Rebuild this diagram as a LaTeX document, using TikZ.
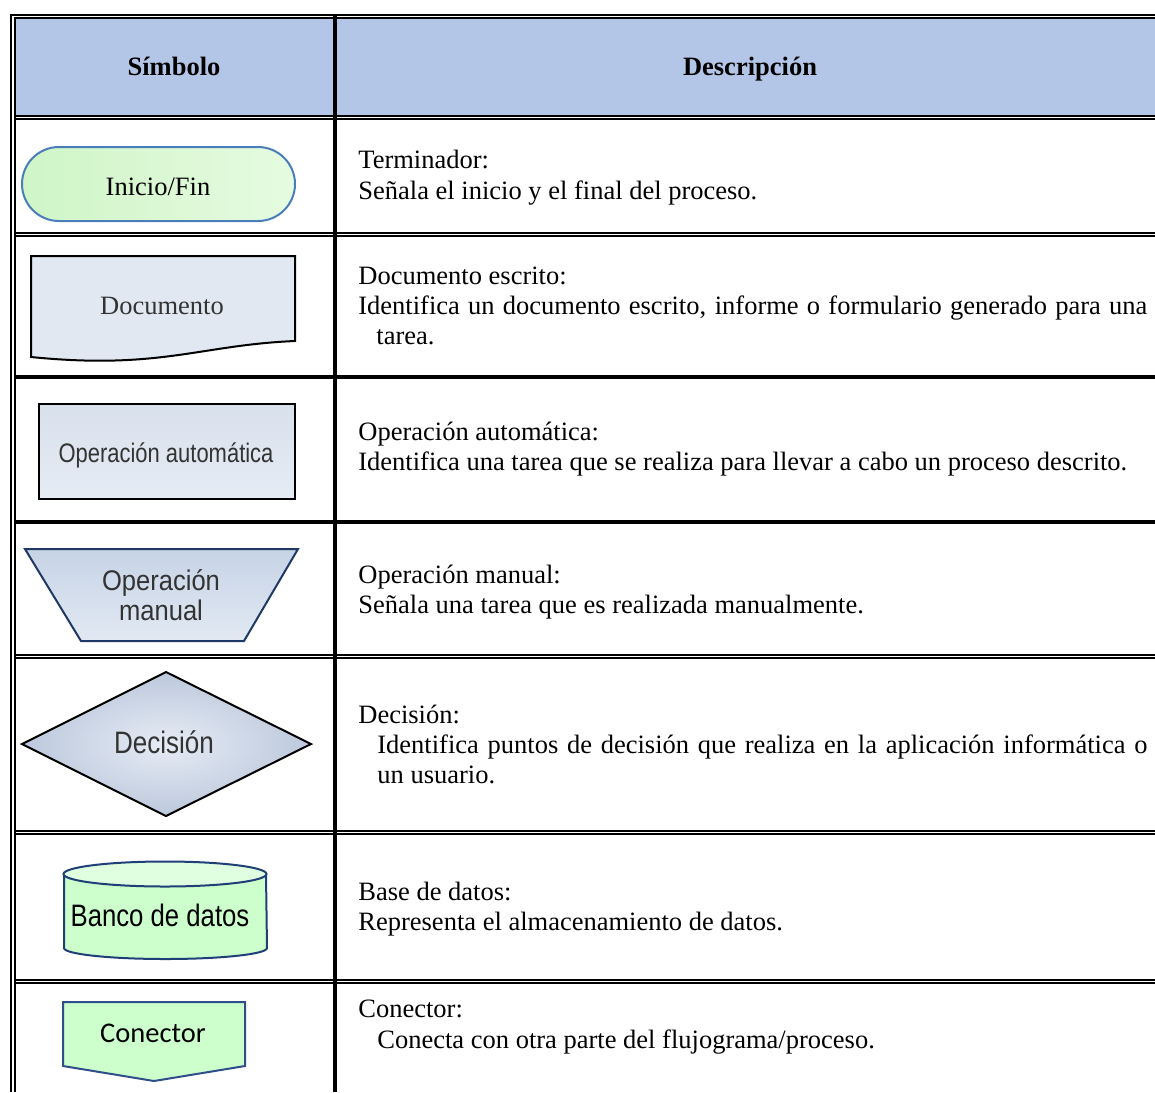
\documentclass[tikz,border=0pt]{standalone}
\usepackage{fontspec}
\usepackage{graphicx}
\setmainfont{Liberation Serif}
\newfontfamily\arialf{Liberation Sans}
\newfontfamily\calibf{Carlito}

\definecolor{hdrblue}{HTML}{B4C6E7}
\definecolor{termline}{HTML}{4A7EBB}
\definecolor{termA}{HTML}{CFF5C7}
\definecolor{termB}{HTML}{E6FBE0}
\definecolor{docfill}{HTML}{E1E8F2}
\definecolor{autoA}{HTML}{D8E0EC}
\definecolor{autoB}{HTML}{E6ECF4}
\definecolor{navyline}{HTML}{1F3864}
\definecolor{manA}{HTML}{C6D3E6}
\definecolor{manB}{HTML}{E2E9F3}
\definecolor{decIn}{HTML}{E6ECF5}
\definecolor{decOut}{HTML}{BCC8DC}
\definecolor{dbline}{HTML}{1F3F77}
\definecolor{dbbody}{HTML}{CCFFCC}
\definecolor{dbtop}{HTML}{E0FFE0}
\definecolor{connline}{HTML}{2E4F8A}
\definecolor{shapetext}{HTML}{333333}

\begin{document}
\begin{tikzpicture}[x=0.5pt,y=-0.5pt,
  thinrule/.style={line width=1pt},
  thickrule/.style={line width=2pt},
  colrule/.style={line width=1.75pt},
  desc/.style={font=\fontsize{13.25pt}{15.5pt}\selectfont, anchor=base west, inner sep=0pt},
  head/.style={font=\fontsize{13.25pt}{15.5pt}\selectfont\bfseries, anchor=base, inner sep=0pt},
  serifshape/.style={font=\fontsize{13.25pt}{15.5pt}\selectfont, anchor=base, inner sep=0pt},
  sansshape/.style={anchor=base, inner sep=0pt, text=shapetext},
  outline/.style={line width=1pt, line join=miter}
]
\useasboundingbox (0,0) rectangle (1155,1092);

% header band
\fill[hdrblue] (14,18) rectangle (1155,115);

% outer frame (double lines on top and left)
\draw[thinrule] (10,15) -- (1155,15);
\draw[thinrule] (14,18) -- (1155,18);
\draw[thinrule] (11,14) -- (11,1092);
\draw[thinrule] (14.5,18) -- (14.5,1092);

% row separators
\foreach \ya/\yb in {115.5/118.5, 232.5/235.5, 655/658, 830.5/833.5, 980/983}{
  \draw[thinrule] (14,\ya) -- (1155,\ya);
  \draw[thinrule] (14,\yb) -- (1155,\yb);
}
\draw[thickrule] (14,376.5) -- (1155,376.5);
\draw[thickrule] (14,522) -- (1155,522);

% column separator
\draw[colrule] (335,15) -- (335,1092);

% header texts
\node[head] (hsym) at (174,75) {Símbolo};
\node[head] (hdesc) at (750,75) {Descripción};

% ---- symbols ----
% terminator
\draw[outline, draw=termline, left color=termA, right color=termB, rounded corners=18.5pt]
  (22,147) rectangle (295,221);
\node[serifshape] (sterm) at (158,195) {Inicio/Fin};

% document
\draw[outline, fill=docfill] (31,256) -- (295,256) -- (295,341)
  .. controls (200,345) and (160,370) .. (31,357) -- cycle;
\node[serifshape, text=shapetext] (sdoc) at (162,314) {Documento};

% automatic operation
\draw[outline, top color=autoA, bottom color=autoB] (39,404) rectangle (295,499);
\node[sansshape] (sauto) at (166,462)
  {\scalebox{0.82}[1]{\arialf\fontsize{13.4pt}{15pt}\selectfont Operación automática}};

% manual operation
\draw[outline, draw=navyline, top color=manA, bottom color=manB]
  (25,549) -- (298,549) -- (244,641) -- (81,641) -- cycle;
\node[sansshape] (sman1) at (161,590)
  {\scalebox{0.9}[1]{\arialf\fontsize{14.2pt}{16pt}\selectfont Operación}};
\node[sansshape] (sman2) at (161,620)
  {\scalebox{0.9}[1]{\arialf\fontsize{14.2pt}{16pt}\selectfont manual}};

% decision
\draw[outline, inner color=decIn, outer color=decOut]
  (22,744) -- (166,672) -- (311,744) -- (166,816) -- cycle;
\node[sansshape] (sdec) at (164,753)
  {\scalebox{0.84}[1]{\arialf\fontsize{15.5pt}{17pt}\selectfont Decisión}};

% database
\draw[outline, draw=dbline, fill=dbbody] (64,874) -- (64,948)
  arc[start angle=180, end angle=360, x radius=50.75pt, y radius=5.5pt]
  -- (266,874) -- cycle;
\draw[outline, draw=dbline, fill=dbtop] (165,874) ellipse [x radius=50.75pt, y radius=6.25pt];
\node[sansshape, text=black] (sdb) at (160,926)
  {\scalebox{0.83}[1]{\arialf\fontsize{15.5pt}{17pt}\selectfont Banco de datos}};

% connector
\draw[outline, draw=connline, fill=dbbody]
  (63,1002) -- (245,1002) -- (245,1066) -- (154,1081) -- (63,1066) -- cycle;
\node[sansshape, text=black] (sconn) at (153,1042)
  {\calibf\fontsize{14.25pt}{16pt}\selectfont Conector};

% ---- descriptions ----
\node[desc] (d1a) at (358,168) {Terminador:};
\node[desc] (d1b) at (358,199) {Señala el inicio y el final del proceso.};

\node[desc] (d2a) at (358,284) {Documento escrito:};
\node[desc] (d2b) at (358,314)
  {\makebox[394.5pt][s]{Identifica un documento escrito, informe o formulario generado para una}};
\node[desc] (d2c) at (376,344) {tarea.};

\node[desc] (d3a) at (358,440) {Operación automática:};
\node[desc] (d3b) at (358,470) {Identifica una tarea que se realiza para llevar a cabo un proceso descrito.};

\node[desc] (d4a) at (358,583) {Operación manual:};
\node[desc] (d4b) at (358,613) {Señala una tarea que es realizada manualmente.};

\node[desc] (d5a) at (358,723) {Decisión:};
\node[desc] (d5b) at (377,753)
  {\makebox[385pt][s]{Identifica puntos de decisión que realiza en la aplicación informática o}};
\node[desc] (d5c) at (377,783) {un usuario.};

\node[desc] (d6a) at (358,900) {Base de datos:};
\node[desc] (d6b) at (358,930) {Representa el almacenamiento de datos.};

\node[desc] (d7a) at (358,1017) {Conector:};
\node[desc] (d7b) at (377,1048) {Conecta con otra parte del flujograma/proceso.};
\end{tikzpicture}
\end{document}
